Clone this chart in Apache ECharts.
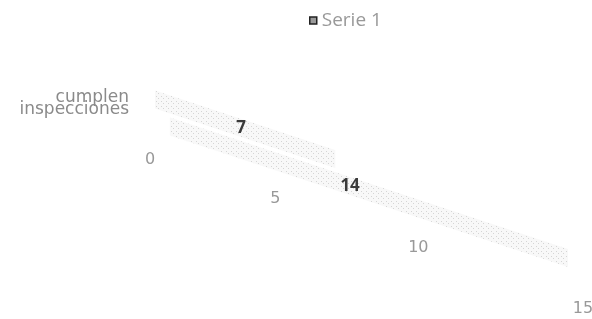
<!DOCTYPE html>
<html>
<head>
<meta charset="utf-8">
<script src="https://cdn.jsdelivr.net/npm/echarts@6/dist/echarts.min.js"></script>
<style>
  html, body { margin: 0; padding: 0; background: #fff; }
  #chart { width: 592px; height: 319px; }
</style>
</head>
<body>
<div id="chart"></div>
<script>
// data
const categories = ['', 'cumplen inspecciones'];
const values = [14, 7];
const ticks = [0, 5, 10, 15];
const seriesName = 'Serie 1';

// 3D-ish view of the excel chart: value axis runs down to the right, with perspective
const LEFT = 150, WIDTH = 433, PERSP = 0.185, SLOPE = 0.33;
function depth(px) {
  const t = (px - LEFT) / WIDTH;
  return t / (1 - PERSP * t) * (1 - PERSP) * WIDTH;
}

// light stipple fill like the faded print
const pat = document.createElement('canvas');
pat.width = 5; pat.height = 5;
const pctx = pat.getContext('2d');
pctx.fillStyle = '#f6f6f6';
pctx.fillRect(0, 0, 5, 5);
pctx.fillStyle = '#c4c4c4';
pctx.fillRect(1, 1, 1, 1);
pctx.fillRect(3, 3, 1, 1);

const chart = echarts.init(document.getElementById('chart'));

chart.setOption({
  backgroundColor: '#fff',
  animation: false,
  legend: {
    data: [{ name: seriesName, itemStyle: { color: '#9a9a9a', borderColor: '#222', borderWidth: 1.5 } }],
    icon: 'rect',
    itemWidth: 7,
    itemHeight: 7,
    itemGap: 6,
    top: 6,
    left: 304,
    textStyle: { color: '#999', fontSize: 19, fontFamily: 'Open Sans' }
  },
  grid: { left: LEFT, width: WIDTH, top: 90, height: 54 },
  xAxis: { type: 'value', min: 0, max: 15, interval: 5, show: false },
  yAxis: {
    type: 'category',
    data: categories,
    axisLine: { show: false },
    axisTick: { show: false },
    splitLine: { show: false },
    axisLabel: {
      margin: 21,
      color: '#8a8a8a',
      fontSize: 17,
      lineHeight: 12,
      fontFamily: 'DejaVu Sans',
      formatter: v => v.replace(' ', '\n')
    }
  },
  series: [
    {
      name: seriesName,
      type: 'custom',
      data: values.map((v, i) => [v, i]),
      renderItem(params, api) {
        const v = api.value(0), cat = api.value(1);
        const top = api.coord([0, categories.length - 1])[1];
        const proj = p => {
          const d = depth(p[0]);
          return [LEFT + 5 + d + 0.55 * (p[1] - top), p[1] - 4 + d * SLOPE];
        };
        const a = proj(api.coord([0, cat]));
        const b = proj(api.coord([v, cat]));
        const m = proj(api.coord([v / 2, cat]));
        return {
          type: 'group',
          children: [
            {
              type: 'polygon',
              shape: { points: [[a[0], a[1] - 9], [b[0], b[1] - 9], [b[0], b[1] + 9], [a[0], a[1] + 9]] },
              style: { fill: { image: pat, repeat: 'repeat' }, opacity: 0.7 }
            },
            {
              type: 'text',
              x: m[0], y: m[1],
              style: {
                text: String(v), fill: '#3a3a3a', fontSize: 17, fontWeight: 'bold',
                fontFamily: 'Open Sans', align: 'center', verticalAlign: 'middle'
              },
              z2: 10
            }
          ]
        };
      }
    },
    {
      name: 'ticks',
      type: 'custom',
      data: ticks.map(t => [t, 0]),
      renderItem(params, api) {
        const d = depth(api.coord([api.value(0), 0])[0]);
        return {
          type: 'text',
          x: LEFT + d, y: 160 + d * 0.3 + d * d * 0.0001,
          style: {
            text: String(api.value(0)), fill: '#999', fontSize: 16,
            fontFamily: 'DejaVu Sans', align: 'center', verticalAlign: 'middle'
          }
        };
      }
    }
  ]
});
</script>
</body>
</html>
